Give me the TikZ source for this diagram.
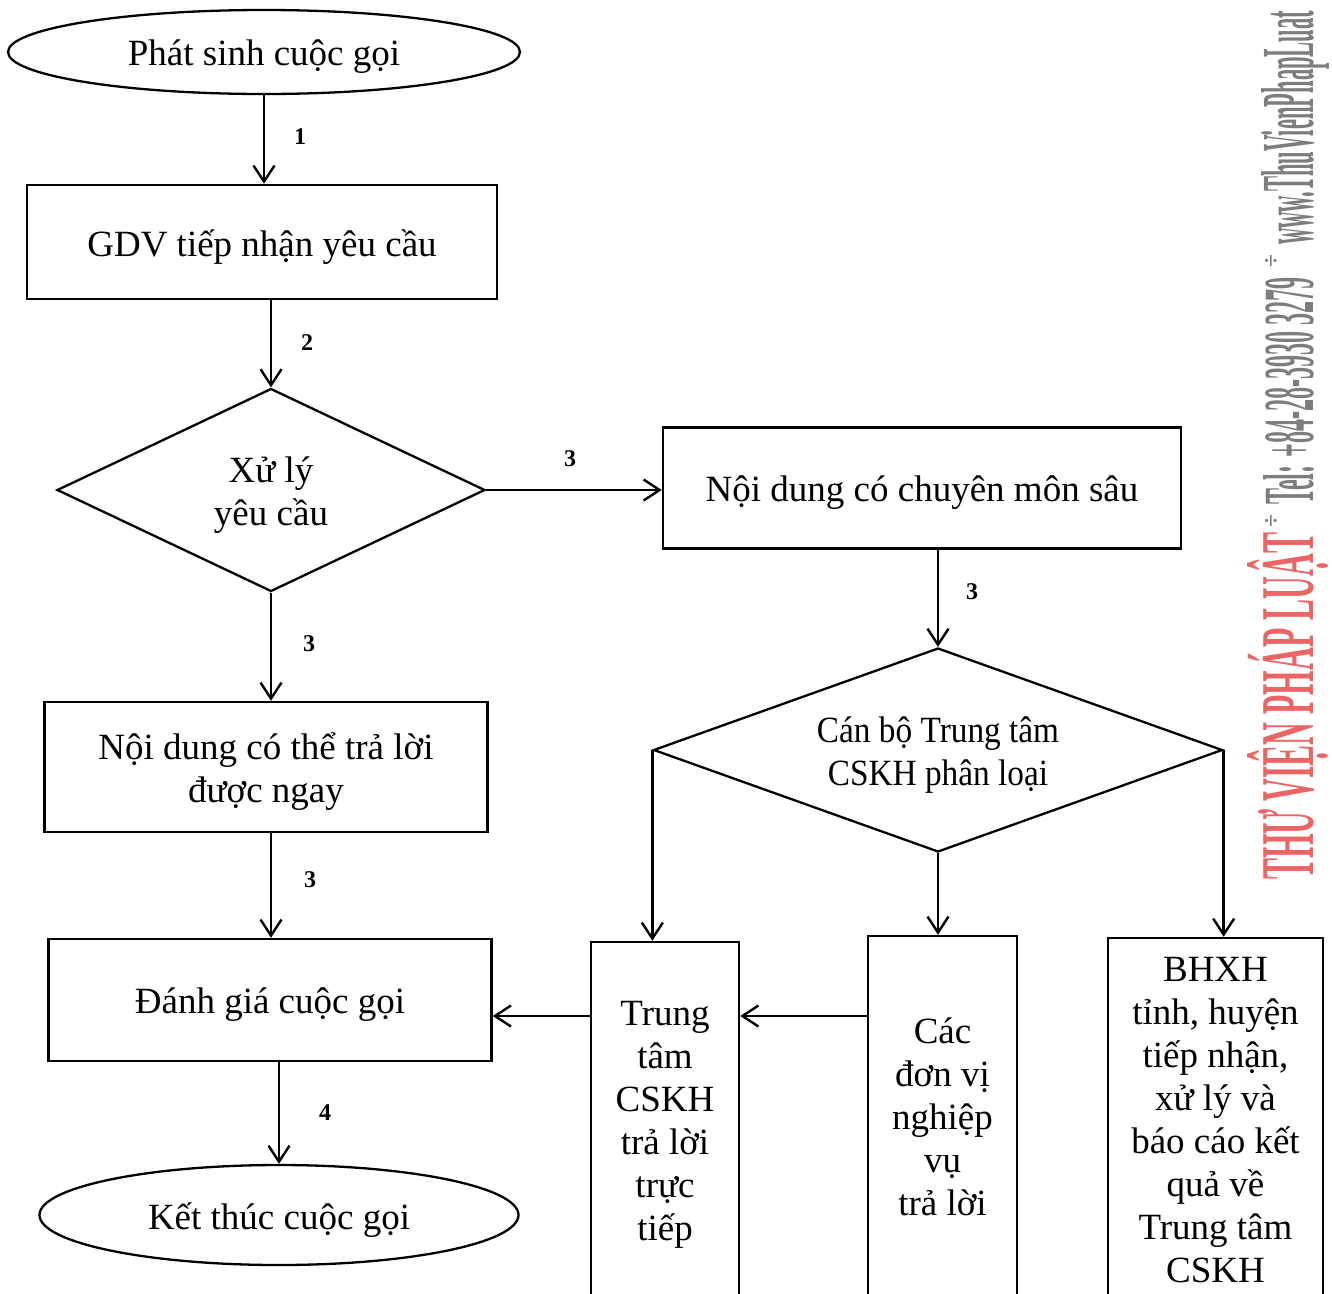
\documentclass[tikz,border=0pt]{standalone}
\usepackage{fontspec}
\setmainfont{Liberation Serif}
\usepackage{graphicx}
\usetikzlibrary{shapes.geometric,arrows.meta}
\definecolor{wmred}{RGB}{236,100,100}
\definecolor{wmgray}{RGB}{125,125,125}
\begin{document}
\begin{tikzpicture}[x=1pt,y=-1pt,
  every node/.style={font=\fontsize{37}{43}\selectfont, align=center, text=black},
  box/.style={draw, line width=2.5pt, rectangle, inner sep=0pt},
  oval/.style={draw, line width=2.3pt, ellipse, inner sep=0pt},
  dia/.style={draw, line width=2.3pt, diamond, inner sep=0pt},
  txt/.style={label={[yshift=-5pt]center:{#1}}},
  arr/.style={line width=2.4pt, -{Straight Barb[length=16pt,width=21pt,line width=2.4pt]}},
  lbl/.style={font=\fontsize{24}{24}\selectfont\bfseries},
  wm/.style={rotate=90, anchor=base west, inner sep=0pt}
]
\useasboundingbox (0,0) rectangle (1332,1293);
\clip (0,0) rectangle (1332,1293);

% watermark
\node[wm, text=wmred] (wmA) at (1313,880) {\resizebox{347pt}{66pt}{\bfseries THƯ VIỆN PHÁP LUẬT}};
\node[wm, text=wmgray] (wmB) at (1313,505) {\resizebox{227pt}{50pt}{\bfseries Tel: +84-28-3930 3279}};
\node[wm, text=wmgray] (wmC) at (1313,245) {\resizebox{234pt}{52pt}{\bfseries www.ThuVienPhapLuat}};
\node[rotate=90, text=wmgray, font=\fontsize{24}{24}\selectfont\bfseries] (wmS1) at (1272,521) {÷};
\node[rotate=90, text=wmgray, font=\fontsize{24}{24}\selectfont\bfseries] (wmS2) at (1272,261) {÷};

% main nodes
\node[oval, minimum width=512pt, minimum height=84pt, txt={Phát sinh cuộc gọi}] (start) at (264,52) {};
\node[box, minimum width=470pt, minimum height=114pt, txt={GDV tiếp nhận yêu cầu}] (gdv) at (262,242) {};
\node[dia, aspect=2.1, minimum width=428pt, minimum height=203pt, txt={Xử lý\\yêu cầu}] (xl) at (271,490) {};
\node[box, minimum width=518pt, minimum height=121pt, txt={Nội dung có chuyên môn sâu}] (sau) at (922,488) {};
\node[dia, aspect=2.8, minimum width=569pt, minimum height=204pt,
  txt={\scalebox{0.9}[1]{Cán bộ Trung tâm}\\\scalebox{0.9}[1]{CSKH phân loại}}] (cb) at (938,750) {};
\node[box, minimum width=443pt, minimum height=130pt, txt={Nội dung có thể trả lời\\được ngay}] (ngay) at (266,767) {};
\node[box, minimum width=443pt, minimum height=122pt, txt={Đánh giá cuộc gọi}] (dg) at (270,1000) {};
\node[oval, minimum width=479pt, minimum height=100pt, txt={Kết thúc cuộc gọi}] (end) at (279,1215) {};

\node[box, minimum width=148pt, minimum height=366pt] (tt) at (665,1125) {Trung\\tâm\\CSKH\\trả lời\\trực\\tiếp};
\node[box, minimum width=149pt, minimum height=362pt] (cdv) at (942.5,1117) {Các\\đơn vị\\nghiệp\\vụ\\trả lời};
\node[box, minimum width=215pt, minimum height=364pt] (bh) at (1215.5,1120) {BHXH\\tỉnh, huyện\\tiếp nhận,\\xử lý và\\báo cáo kết\\quả về\\Trung tâm\\CSKH};

\coordinate (h) at (0,1016);

% connectors
\draw[arr] (start.south) -- (start.south |- gdv.north);
\draw[arr] (xl.north |- gdv.south) -- (xl.north);
\draw[arr] (xl.east) -- (xl.east -| sau.west);
\draw[arr] (xl.south) -- (xl.south |- ngay.north);
\draw[arr] (xl.south |- ngay.south) -- (xl.south |- dg.north);
\draw[arr] (end.north |- dg.south) -- (end.north);
\draw[arr] (cb.north |- sau.south) -- (cb.north);
\draw[arr] (cb.west) -- (cb.west |- tt.north);
\draw[arr] (cb.south) -- (cb.south |- cdv.north);
\draw[arr] (cb.east) -- (cb.east |- bh.north);
\draw[arr] (cdv.west |- h) -- (tt.east |- h);
\draw[arr] (tt.west |- h) -- (dg.east |- h);

% labels
\node[lbl] (l1) at (300,137) {1};
\node[lbl] (l2) at (307,343) {2};
\node[lbl] (l3a) at (570,459) {3};
\node[lbl] (l3b) at (309,644) {3};
\node[lbl] (l3c) at (310,880) {3};
\node[lbl] (l4) at (325,1113) {4};
\node[lbl] (l3d) at (972,592) {3};
\end{tikzpicture}
\end{document}
